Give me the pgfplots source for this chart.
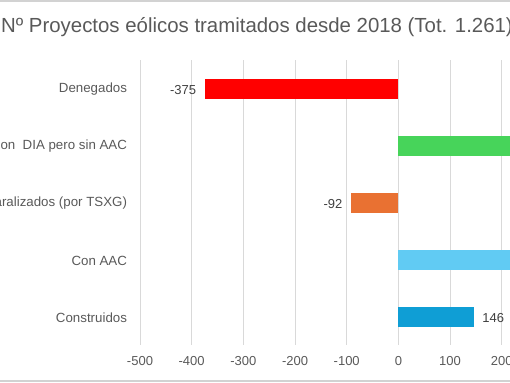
\documentclass[border=0pt]{standalone}
\usepackage{fontspec}
\setmainfont{Liberation Sans}
\usepackage{pgfplots}
\pgfplotsset{compat=1.18}
\definecolor{txt}{HTML}{595959}
\definecolor{lbl}{HTML}{404040}
\definecolor{cRed}{HTML}{FF0000}
\definecolor{cGreen}{HTML}{47D45A}
\definecolor{cOrange}{HTML}{E97132}
\definecolor{cLBlue}{HTML}{61CBF3}
\definecolor{cBlue}{HTML}{0F9ED5}
\begin{document}
\begin{tikzpicture}
\useasboundingbox (0pt,0pt) rectangle (510pt,382pt);
\clip (0pt,0pt) rectangle (510pt,382pt);
\draw[gray!35, line width=2pt] (0pt,381pt) -- (510pt,381pt);
\draw[gray!35, line width=2pt] (0pt,1pt) -- (510pt,1pt);
\node[text=txt, font=\fontsize{20.4}{24}\selectfont] at (257pt,355pt) {Nº Proyectos eólicos tramitados desde 2018 (Tot. 1.261)};
\begin{axis}[at={(140pt,37pt)}, anchor=south west, scale only axis,
  width=370pt, height=285pt,
  xmin=-500, xmax=216, ymin=-0.5, ymax=4.5, y dir=reverse,
  axis line style={draw=none}, major tick length=0pt,
  xtick={-500,-400,...,200}, xmajorgrids,
  grid style={gray!30, line width=0.8pt},
  ytick={0,1,2,3,4},
  yticklabels={Denegados, {Con\ \ DIA pero sin AAC}, {Proyectos paralizados (por TSXG)}, Con AAC, Construidos},
  xticklabel style={text=txt, font=\fontsize{13}{15}\selectfont, yshift=-8pt, /pgf/number format/assume math mode=true},
  yticklabel style={text=txt, font=\fontsize{13.3}{15}\selectfont, xshift=-9.5pt, yshift=-1pt},
  xbar, bar width=20pt, bar shift=0pt,
  nodes near coords style={text=lbl, font=\fontsize{13}{15}\selectfont, /pgf/number format/assume math mode=true, yshift=-2pt},
]
\addplot[fill=cRed, draw=none, nodes near coords, every node near coord/.append style={anchor=east, xshift=-5pt}] coordinates {(-375,0)};
\addplot[fill=cGreen, draw=none] coordinates {(300,1)};
\addplot[fill=cOrange, draw=none, nodes near coords, every node near coord/.append style={anchor=east, xshift=-5pt}] coordinates {(-92,2)};
\addplot[fill=cLBlue, draw=none] coordinates {(300,3)};
\addplot[fill=cBlue, draw=none, nodes near coords, every node near coord/.append style={anchor=west, xshift=5pt}] coordinates {(146,4)};
\end{axis}
\end{tikzpicture}
\end{document}
